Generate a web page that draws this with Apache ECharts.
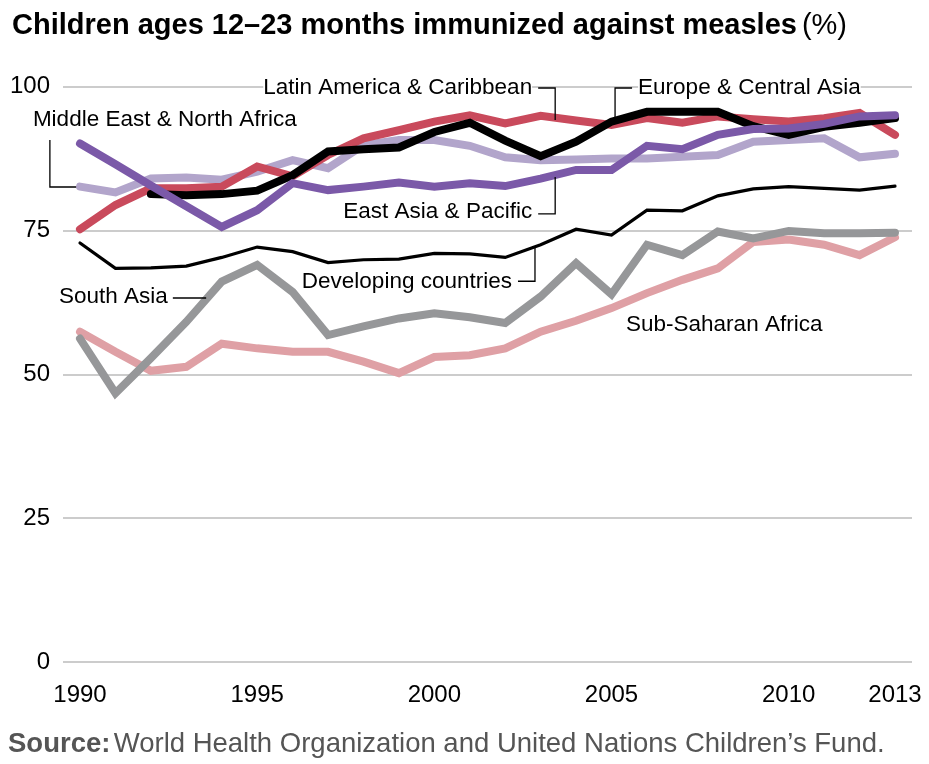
<!DOCTYPE html>
<html><head><meta charset="utf-8">
<script src="https://cdn.jsdelivr.net/npm/echarts@6/dist/echarts.min.js"></script>
<style>html,body{margin:0;padding:0;background:#fff}#c{width:929px;height:764px}</style>
</head><body><div id="c"></div>
<script>
const years = [1990,1991,1992,1993,1994,1995,1996,1997,1998,1999,2000,2001,2002,2003,2004,2005,2006,2007,2008,2009,2010,2011,2012,2013];
const middleEastNorthAfrica = [82.6,81.6,84.0,84.2,83.8,85.2,87.2,85.8,89.8,90.7,90.7,89.7,87.7,87.2,87.3,87.5,87.5,87.8,88.1,90.4,90.7,91.0,87.7,88.3];
const subSaharanAfrica = [57.4,53.9,50.6,51.3,55.3,54.5,53.9,53.9,52.2,50.2,53.0,53.3,54.5,57.4,59.3,61.5,64.1,66.4,68.4,73.0,73.4,72.5,70.7,73.8];
const southAsia = [56.2,46.7,52.8,59.1,66.1,69.0,64.3,56.8,58.3,59.7,60.6,59.9,58.9,63.5,69.3,63.9,72.5,70.7,74.8,73.6,74.9,74.5,74.5,74.6];
const latinAmericaCaribbean = [75.2,79.4,82.3,82.3,82.6,86.1,84.4,88.1,91.0,92.4,93.9,95.0,93.6,94.9,94.1,93.3,94.5,93.7,94.8,94.3,93.9,94.5,95.4,91.6];
const europeCentralAsia = [null,null,81.3,81.1,81.3,81.9,84.6,88.7,89.1,89.4,92.1,93.7,90.6,87.9,90.4,93.9,95.6,95.6,95.6,93.1,91.6,93.0,93.7,94.5];
const developingCountries = [72.8,68.4,68.5,68.8,70.3,72.1,71.3,69.4,69.9,70.0,71.0,70.9,70.3,72.5,75.2,74.2,78.5,78.4,81.0,82.2,82.6,82.3,82.0,82.7];
const eastAsiaPacific = [90.1,86.5,82.8,79.2,75.6,78.5,83.2,82.0,82.6,83.3,82.6,83.2,82.7,84.0,85.5,85.5,89.7,89.1,91.6,92.6,92.7,93.5,94.8,95.0];
const xTickLabels = [1990,1995,2000,2005,2010,2013];
const yTicks = [0,25,50,75,100];

const FONT = 'Liberation Sans, Arial, sans-serif';
const chart = echarts.init(document.getElementById('c'), null, {renderer:'canvas'});

function pairs(arr){ return years.map((y,i)=>[y, arr[i]]); }
function line(name, arr, color, width){
  return {name, type:'line', data:pairs(arr), showSymbol:false, symbol:'none', connectNulls:false,
    lineStyle:{color, width, cap:'round', join:'miter'}, silent:true, animation:false};
}

chart.setOption({
  animation:false,
  title:{
    text:'{b|Children ages 12–23 months immunized against measles} {r|(%)}',
    left:7, top:6,
    textStyle:{rich:{
      b:{fontFamily:FONT, fontWeight:'bold', fontSize:29, color:'#000'},
      r:{fontFamily:FONT, fontWeight:'normal', fontSize:29, color:'#000'}
    }}
  },
  grid:{left:63, right:17, top:86.5, bottom:102, containLabel:false},
  xAxis:{type:'value', min:1989.52, max:2013.48,
    axisLine:{show:false}, axisTick:{show:false}, splitLine:{show:false},
    axisLabel:{customValues:xTickLabels, formatter:v=>String(v), fontFamily:FONT, fontSize:24, color:'#000', margin:21}
  },
  yAxis:{type:'value', min:0, max:100, interval:25,
    axisLine:{show:false}, axisTick:{show:false},
    splitLine:{show:true, lineStyle:{color:'#cccccc', width:2}},
    axisLabel:{fontFamily:FONT, fontSize:24, color:'#000', margin:13}
  },
  series:[
    line('Middle East & North Africa', middleEastNorthAfrica, '#b2a5cb', 8),
    line('Sub-Saharan Africa', subSaharanAfrica, '#dfa0a5', 8),
    line('South Asia', southAsia, '#969799', 8),
    line('Latin America & Caribbean', latinAmericaCaribbean, '#c94a5c', 8),
    line('Europe & Central Asia', europeCentralAsia, '#000000', 8),
    line('Developing countries', developingCountries, '#000000', 3.2),
    line('East Asia & Pacific', eastAsiaPacific, '#7b59a8', 8)
  ],
  graphic:[
    {type:'text', left:8, top:730, style:{
      text:'{b|Source:} {r|World Health Organization and United Nations Children’s Fund.}',
      rich:{b:{fontFamily:FONT, fontWeight:'bold', fontSize:27.5, fill:'#555'}, r:{fontFamily:FONT, fontSize:27.5, fill:'#555'}}
    }}
  ]
});

// Annotations anchored in data coordinates (year, value)
const annotations = [
  {text:'Latin America & Caribbean', at:[2002.76, 99.74], align:'right', bg:true,
   leader:[[2002.93,99.74],[2003.41,99.74],[2003.41,94.18]]},
  {text:'Europe & Central Asia', at:[2005.75, 99.74], align:'left', bg:true,
   leader:[[2005.58,99.74],[2005.10,99.74],[2005.10,94.70]]},
  {text:'Middle East & North Africa', at:[1988.67, 94.18], align:'left', bg:false,
   leader:[[1989.15,90.70],[1989.15,82.54],[1989.89,82.54]]},
  {text:'East Asia & Pacific', at:[2002.76, 78.19], align:'right', bg:false,
   leader:[[2002.93,77.85],[2003.41,77.85],[2003.41,84.27]]},
  {text:'Developing countries', at:[2002.19, 65.99], align:'right', bg:false,
   leader:[[2002.36,66.16],[2002.84,66.16],[2002.84,72.24]]},
  {text:'South Asia', at:[1992.48, 63.42], align:'right', bg:false,
   leader:[[1992.62,63.25],[1993.56,63.25]]},
  {text:'Sub-Saharan Africa', at:[2005.41, 58.64], align:'left', bg:false, leader:null}
];
const g = [];
const toPx = p => chart.convertToPixel({gridIndex:0}, p);
annotations.forEach(a=>{
  if(a.leader){
    g.push({type:'polyline', shape:{points:a.leader.map(toPx)}, style:{stroke:'#000', lineWidth:1.3, fill:null}, z:50});
  }
  const p = toPx(a.at);
  g.push({type:'text', x:p[0], y:p[1], z:60, style:{text:a.text, fontFamily:FONT, fontSize:22.5, fill:'#000',
    align:a.align, verticalAlign:'middle', backgroundColor:a.bg?'#fff':null, padding:a.bg?[2,0]:0}});
});
chart.setOption({graphic: chart.getOption().graphic[0].elements.concat(g)});
</script>
</body></html>
